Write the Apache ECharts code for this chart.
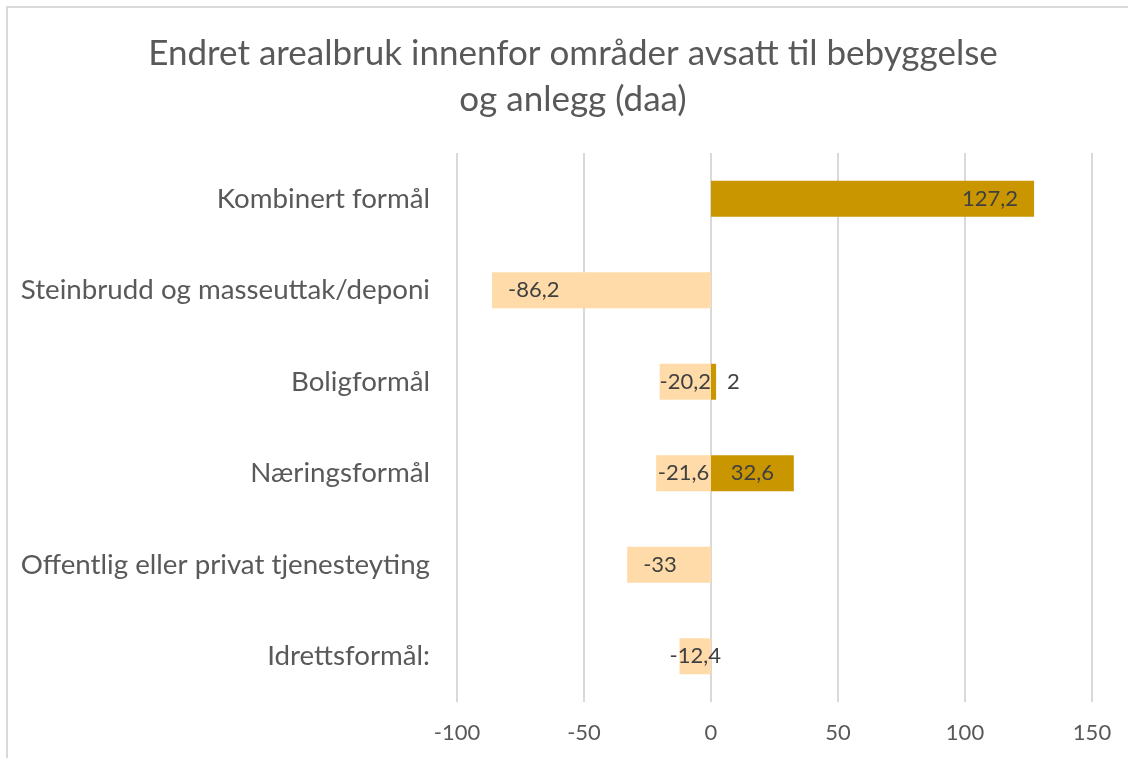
<!DOCTYPE html>
<html>
<head>
<meta charset="utf-8">
<script src="https://cdn.jsdelivr.net/npm/echarts@6/dist/echarts.min.js"></script>
<style>
  html, body { margin: 0; padding: 0; background: #fff; }
  #main { width: 1128px; height: 758px; }
</style>
</head>
<body>
<div id="main"></div>
<script>
// kategorier, ovenfra og ned
const categories = [
  'Kombinert formål',
  'Steinbrudd og masseuttak/deponi',
  'Boligformål',
  'Næringsformål',
  'Offentlig eller privat tjenesteyting',
  'Idrettsformål:'
]
// økning (mørk) og reduksjon (lys), daa
const increase = [127.2, null, 2, 32.6, null, null]
const decrease = [null, -86.2, -20.2, -21.6, -33, -12.4]
const tickMin = -100
const tickMax = 150
const tickStep = 50

// hvor etiketten havner, som i Excel
const incLabelPos = ['insideRight', null, 'right', 'inside', null, null]
const decLabelPos = [null, 'insideLeft', 'inside', 'inside', 'insideLeft', 'inside']

const FONT = 'Lato'
const fmt = v => String(v).replace('.', ',')

function toItems (values, positions) {
  return values.map((v, i) => {
    if (v === null) return null
    let pos = positions[i]
    let dist = pos === 'right' ? 11 : (pos === 'inside' ? 0 : 16)
    return { value: v, label: { position: pos, distance: dist } }
  })
}

let chart = echarts.init(document.getElementById('main'))
chart.setOption({
  animation: false,
  textStyle: { fontFamily: FONT },
  title: {
    text: 'Endret arealbruk innenfor områder avsatt til bebyggelse\nog anlegg (daa)',
    left: 568,
    top: 26,
    textAlign: 'center',
    textStyle: {
      fontFamily: FONT,
      fontSize: 35,
      fontWeight: 'normal',
      color: '#595959',
      lineHeight: 46
    }
  },
  graphic: [{
    type: 'rect',
    shape: { x: 7, y: 7, width: 1200, height: 800 },
    style: { fill: 'none', stroke: '#d9d9d9', lineWidth: 2 },
    silent: true
  }],
  grid: {
    left: 457,
    right: 36,
    top: 153,
    bottom: 56,
    containLabel: false
  },
  xAxis: {
    type: 'value',
    min: tickMin,
    max: tickMax,
    interval: tickStep,
    axisLine: { show: false },
    axisTick: { show: false },
    splitLine: { lineStyle: { color: '#d9d9d9', width: 2 } },
    axisLabel: {
      color: '#595959',
      fontSize: 22,
      margin: 20
    }
  },
  yAxis: {
    type: 'category',
    data: categories,
    inverse: true,
    axisLine: { show: false },
    axisTick: { show: false },
    axisLabel: {
      color: '#595959',
      fontSize: 27.7,
      margin: 27
    }
  },
  series: [
    {
      name: 'Økning',
      type: 'bar',
      stack: 'total',
      barWidth: 36,
      itemStyle: { color: '#c99600' },
      label: {
        show: true,
        color: '#404040',
        fontSize: 22,
        formatter: p => fmt(p.value)
      },
      data: toItems(increase, incLabelPos)
    },
    {
      name: 'Reduksjon',
      type: 'bar',
      stack: 'total',
      barWidth: 36,
      itemStyle: { color: '#ffdba9' },
      label: {
        show: true,
        color: '#404040',
        fontSize: 22,
        formatter: p => fmt(p.value)
      },
      data: toItems(decrease, decLabelPos)
    }
  ]
})
</script>
</body>
</html>
